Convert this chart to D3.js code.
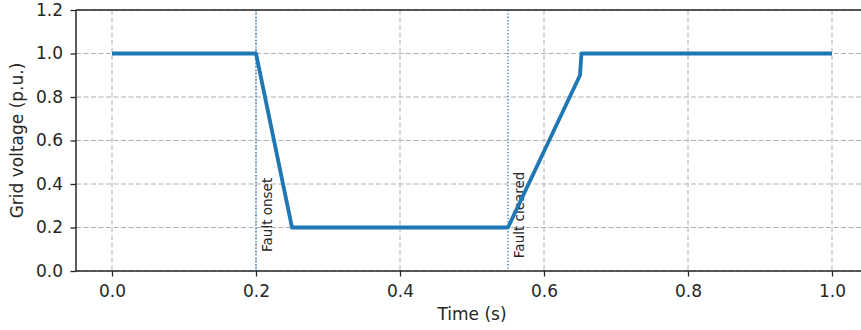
<!DOCTYPE html>
<html>
<head>
<meta charset="utf-8">
<script src="https://cdn.jsdelivr.net/npm/d3@7"></script>
<style>
  body { margin: 0; background: #fff; }
  svg text { font-family: "DejaVu Sans", sans-serif; fill: #262626; }
</style>
</head>
<body>
<svg id="chart" width="861" height="330"></svg>
<script>
// voltage profile (time in s, voltage in p.u.)
const times = [0.0, 0.2, 0.25, 0.55, 0.65, 0.652, 1.0];
const voltages = [1.0, 1.0, 0.2, 0.2, 0.9, 1.0, 1.0];

// event markers
const eventTimes = [0.2, 0.55];
const eventLabels = ["Fault onset", "Fault cleared"];

const xTicks = [0.0, 0.2, 0.4, 0.6, 0.8, 1.0];
const yTicks = [0.0, 0.2, 0.4, 0.6, 0.8, 1.0, 1.2];

const blue = "#1f77b4";
const svg = d3.select("#chart");

const margin = {left: 76, top: 10, bottom: 59};
const plotW = 792;
const plotH = +svg.attr("height") - margin.top - margin.bottom;

const x = d3.scaleLinear().domain([-0.05, 1.05]).range([0, plotW]);
const y = d3.scaleLinear().domain([0, 1.2]).range([plotH, 0]);

const g = svg.append("g").attr("transform", `translate(${margin.left},${margin.top})`);

// grid
g.append("g").selectAll("line").data(xTicks).join("line")
  .attr("x1", d => x(d)).attr("x2", d => x(d))
  .attr("y1", 0).attr("y2", plotH)
  .attr("stroke", "#b0b0b0").attr("stroke-width", 1)
  .attr("stroke-dasharray", "5,2.5");
g.append("g").selectAll("line").data(yTicks).join("line")
  .attr("x1", 0).attr("x2", plotW)
  .attr("y1", d => y(d)).attr("y2", d => y(d))
  .attr("stroke", "#b0b0b0").attr("stroke-width", 1)
  .attr("stroke-dasharray", "5,2.5");

// event lines + labels
eventTimes.forEach((t, i) => {
  g.append("line")
    .attr("x1", x(t)).attr("x2", x(t))
    .attr("y1", 0).attr("y2", plotH)
    .attr("stroke", blue).attr("stroke-width", 1.3)
    .attr("stroke-dasharray", "1.3,2");
  g.append("text")
    .attr("transform", `translate(${x(t) + 15.5},${y(0.258)}) rotate(-90)`)
    .attr("text-anchor", "middle")
    .attr("font-size", 13.5)
    .text(eventLabels[i]);
});

// voltage curve
const pts = times.map((t, i) => [t, voltages[i]]);
g.append("path")
  .datum(pts)
  .attr("fill", "none")
  .attr("stroke", blue)
  .attr("stroke-width", 3.8)
  .attr("stroke-linejoin", "round")
  .attr("d", d3.line().x(d => x(d[0])).y(d => y(d[1])));

// axes
const xAxis = g.append("g")
  .attr("transform", `translate(0,${plotH})`)
  .call(d3.axisBottom(x).tickValues(xTicks).tickFormat(d3.format(".1f")).tickSize(5.5).tickPadding(8.5).tickSizeOuter(0));
const yAxis = g.append("g")
  .call(d3.axisLeft(y).tickValues(yTicks).tickFormat(d3.format(".1f")).tickSize(5.5).tickPadding(7.5).tickSizeOuter(0));
[xAxis, yAxis].forEach(a => {
  a.select(".domain").remove();
  a.selectAll(".tick line").attr("stroke", "#262626").attr("stroke-width", 1.3);
  a.selectAll(".tick text").attr("font-size", 17).attr("font-family", "DejaVu Sans").attr("fill", "#262626");
});

// spines
g.append("line").attr("x1", 0).attr("x2", 0).attr("y1", 0).attr("y2", plotH)
  .attr("stroke", "#262626").attr("stroke-width", 1.5);
g.append("line").attr("x1", 0).attr("x2", plotW).attr("y1", plotH).attr("y2", plotH)
  .attr("stroke", "#262626").attr("stroke-width", 1.5);
g.append("line").attr("x1", 0).attr("x2", plotW).attr("y1", 0).attr("y2", 0)
  .attr("stroke", "#262626").attr("stroke-width", 1.5);
g.append("line").attr("x1", plotW).attr("x2", plotW).attr("y1", 0).attr("y2", plotH)
  .attr("stroke", "#262626").attr("stroke-width", 1.5);

// axis labels
g.append("text")
  .attr("x", plotW / 2).attr("y", plotH + 49)
  .attr("text-anchor", "middle").attr("font-size", 17)
  .text("Time (s)");
g.append("text")
  .attr("transform", `translate(${-53},${plotH / 2}) rotate(-90)`)
  .attr("text-anchor", "middle").attr("font-size", 17)
  .text("Grid voltage (p.u.)");
</script>
</body>
</html>
